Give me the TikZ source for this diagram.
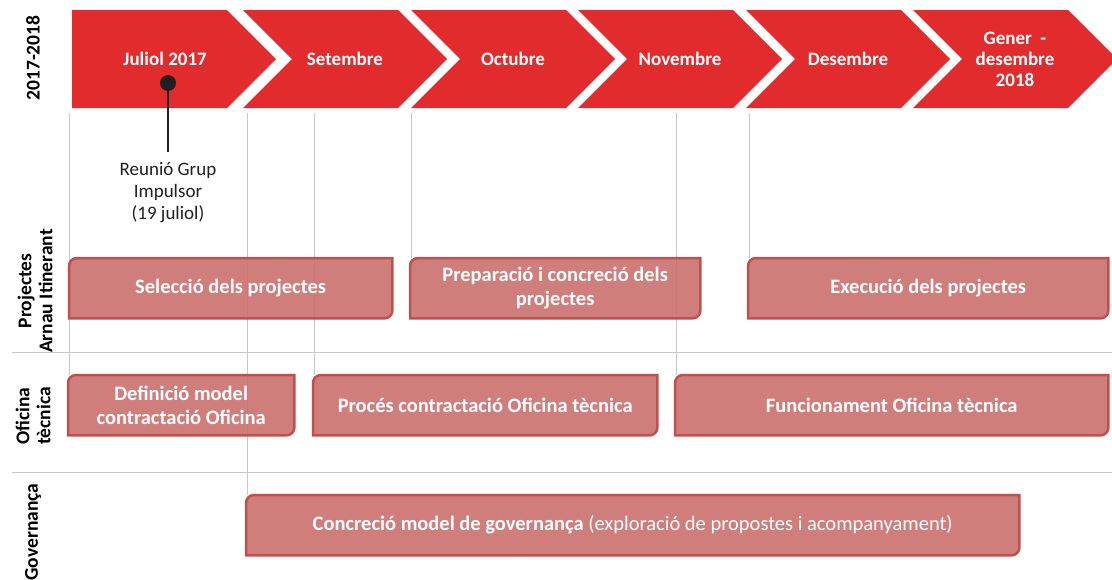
\documentclass[tikz,border=0pt]{standalone}
\usepackage{fontspec}
\setmainfont{Carlito}
\usetikzlibrary{backgrounds}

\begin{document}
\begin{tikzpicture}[x=1pt, y=-1pt,
    month/.style={font=\bfseries\fontsize{19}{21}\selectfont, text=white, align=center},
    task/.style={font=\bfseries\fontsize{20.5}{24}\selectfont, text=white, align=center,
        minimum height=60pt, anchor=north west, inner sep=2pt},
    taskbox/.style={fill=taskfill, fill opacity=0.9, draw=taskedge, line width=2.5pt},
    lane/.style={font=\bfseries\fontsize{19.5}{21}\selectfont, rotate=90, align=center},
    guide/.style={draw=linegray, line width=0.9pt}]
% Define colors
\definecolor{chevred}{RGB}{225, 43, 45}
\definecolor{taskfill}{RGB}{203, 112, 110}
\definecolor{taskedge}{RGB}{192, 80, 77}
\definecolor{linegray}{RGB}{200, 200, 200}
\definecolor{dotblack}{RGB}{35, 31, 32}

\useasboundingbox (0,0) rectangle (1112,579);

% Month chevrons
\fill[chevred] (72,10) -- (227,10) -- (276,59) -- (227,108) -- (72,108) -- cycle;
\node[month] (m1) at (165,59) {Juliol 2017};
\foreach \l/\name/\txt in {243/m2/Setembre, 411/m3/Octubre, 578/m4/Novembre,
        746/m5/Desembre, 913/m6/{Gener\ \ -\\desembre\\2018}} {
    \fill[chevred] (\l,10) -- ({\l+155},10) -- ({\l+204},59) -- ({\l+155},108)
        -- (\l,108) -- ({\l+49},59) -- cycle;
    \node[month] (\name) at ({\l+102},59) {\txt};
}
\coordinate (top) at (0,113);

% Lane titles
\node[lane] (year) at (33,58) {2017-2018};
\node[lane] (lproj) at (35,291) {Projectes\\Arnau Itinerant};
\node[lane] (lofi) at (33,416) {Oficina\\tècnica};
\node[lane] (lgov) at (33,532) {Governança};

% Lane separators
\draw[guide] (12,352) -- (1112,352);
\draw[guide] (12,472) -- (1112,472);

% Milestone
\node[circle, fill=dotblack, inner sep=0pt, minimum size=16pt] (dot) at (168,83) {};
\node[anchor=north, align=center, text=dotblack, inner sep=0pt, inner ysep=10pt,
    font=\fontsize{19}{22}\selectfont] (reu) at (168,152)
    {Reunió Grup\\Impulsor\\(19 juliol)};
\draw[dotblack, line width=1.5pt] (dot) -- (reu);

% Tasks
\node[task, minimum width=323pt] (sel) at (69,258) {Selecció dels projectes};
\node[task, minimum width=290pt] (prep) at (410,258) {Preparació i concreció dels\\projectes};
\node[task, minimum width=360pt] (exec) at (748,258) {Execució dels projectes};
\node[task, minimum width=226pt] (def) at (68,375) {Definició model\\contractació Oficina};
\node[task, minimum width=344pt] (proc) at (313,375) {Procés contractació Oficina tècnica};
\node[task, minimum width=433pt] (func) at (675,375) {Funcionament Oficina tècnica};
\node[task, minimum width=773pt] (gov) at (246,495)
    {Concreció model de governança {\mdseries (exploració de propostes i acompanyament)}};

\begin{scope}[on background layer]
% guide lines down to the task boxes
\foreach \n in {def, gov, proc, prep, func, exec}
    \draw[guide] ([xshift=1pt]\n.north west) -- ([xshift=1pt]\n.north west |- top);
% task boxes
\foreach \n in {sel, prep, exec, def, proc, func, gov}
    \draw[taskbox] (\n.west) [rounded corners=8pt] -- (\n.north west) [sharp corners]
        -- (\n.north east) [rounded corners=8pt] -- (\n.south east) [sharp corners]
        -- (\n.south west) -- cycle;
\end{scope}
\end{tikzpicture}
\end{document}
